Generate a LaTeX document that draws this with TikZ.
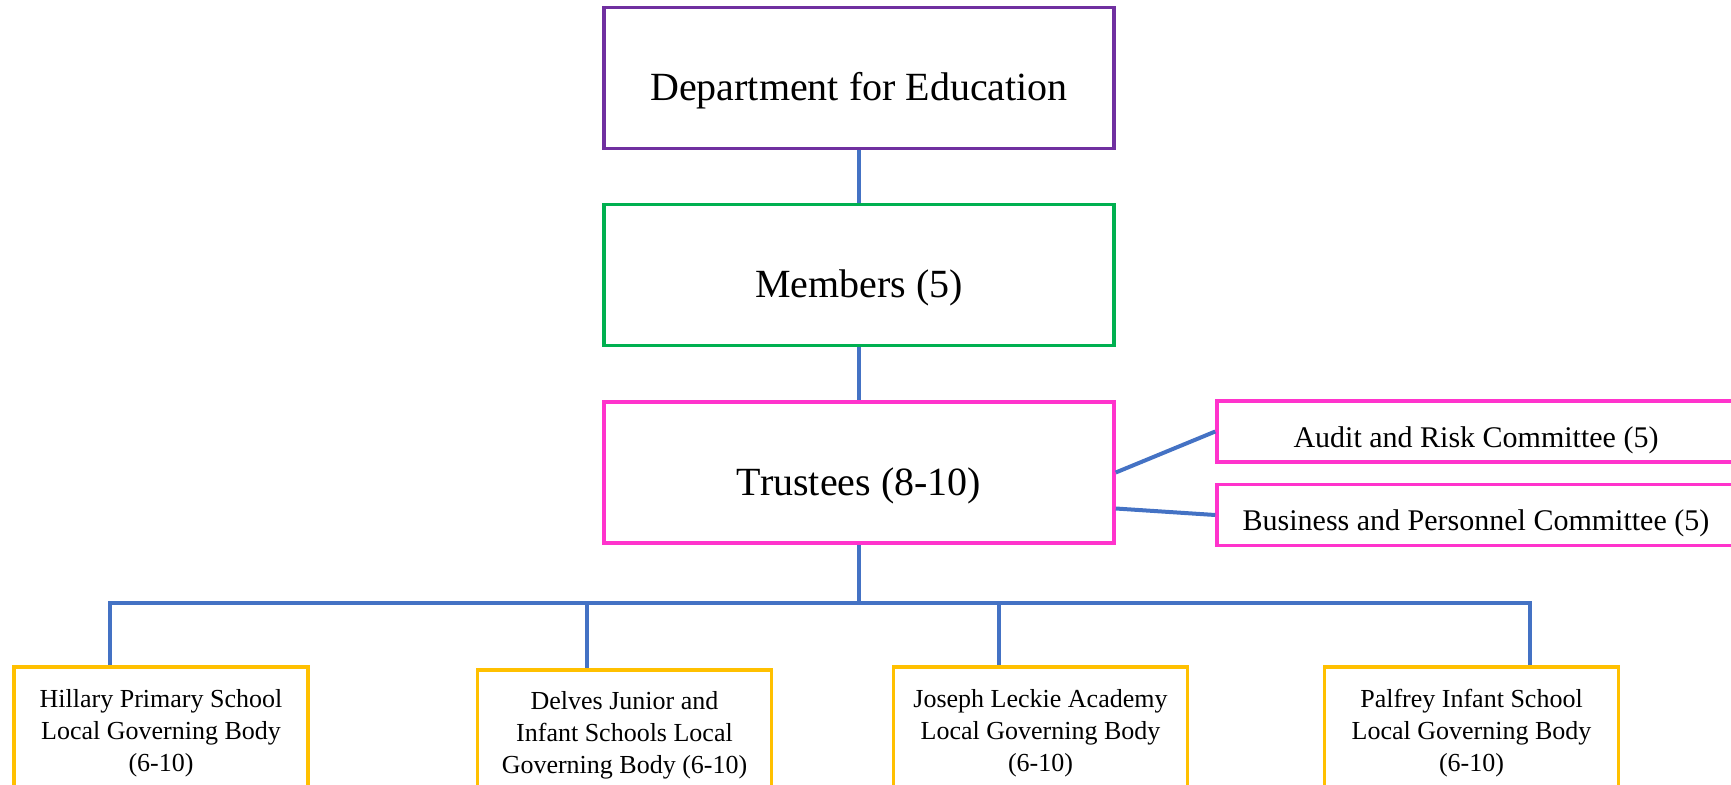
\documentclass[tikz,border=0pt]{standalone}
\usepackage{fontspec}
\setmainfont{Liberation Serif}
\usepackage{tikz}
\definecolor{dfepurple}{HTML}{7030A0}
\definecolor{memgreen}{HTML}{00B050}
\definecolor{trustpink}{HTML}{FF33CC}
\definecolor{lgbgold}{HTML}{FFC000}
\definecolor{linkblue}{HTML}{4472C4}

\begin{document}
\begin{tikzpicture}[x=1pt, y=-1pt,
    box/.style={draw, line width=3.5pt, fill=white, align=center, inner sep=0pt},
    bigbox/.style={box, minimum width=510pt, minimum height=141pt,
      text height=45pt, text depth=0pt, font=\fontsize{40}{48}\selectfont},
    cttbox/.style={box, draw=trustpink, minimum width=518pt, minimum height=61pt,
      text height=31pt, text depth=0pt, font=\fontsize{30}{36}\selectfont},
    lgbbox/.style={box, draw=lgbgold, anchor=north, minimum width=294pt,
      minimum height=132pt, font=\fontsize{26}{32}\selectfont},
    link/.style={draw=linkblue, line width=4pt}]

  \useasboundingbox (0,0) rectangle (1731,784);
  \clip (0,0) rectangle (1731,784);

  % top of the tree
  \node[bigbox, draw=dfepurple] (dfe) at (859,78) {Department for Education};
  \node[bigbox, draw=memgreen] (members) at (859,275) {Members (5)};
  \node[bigbox, draw=trustpink] (trustees) at (859,472.5) {Trustees (8-10)};

  % committees
  \node[cttbox] (audit) at (1476,431.5) {Audit and Risk Committee (5)};
  \node[cttbox] (business) at (1476,515) {Business and Personnel Committee (5)};

  % local governing bodies
  \node[lgbbox] (hillary) at (161,665) {Hillary Primary School\\Local Governing Body\\(6-10)};
  \node[lgbbox] (delves) at (624.5,668) {Delves Junior and\\Infant Schools Local\\Governing Body (6-10)};
  \node[lgbbox] (leckie) at (1040.5,665) {Joseph Leckie Academy\\Local Governing Body\\(6-10)};
  \node[lgbbox] (palfrey) at (1471.5,665) {Palfrey Infant School\\Local Governing Body\\(6-10)};

  \coordinate (bus) at (859,603);

  \draw[link] (dfe) -- (members); % dfe->members
  \draw[link] (members) -- (trustees); % members->trustees
  \draw[link] (trustees.east) -- (audit.west); % trustees->audit
  \draw[link] ([yshift=-36pt]trustees.east) -- (business.west); % trustees->business

  \draw[link] (trustees) -- (bus);
  \draw[link] (bus) -| ([xshift=-51pt]hillary.north); % bus->hillary
  \draw[link] (bus) -| ([xshift=-38pt]delves.north); % bus->delves
  \draw[link] (bus) -| ([xshift=-42pt]leckie.north); % bus->leckie
  \draw[link] (bus) -| ([xshift=58pt]palfrey.north); % bus->palfrey

\end{tikzpicture}
\end{document}
